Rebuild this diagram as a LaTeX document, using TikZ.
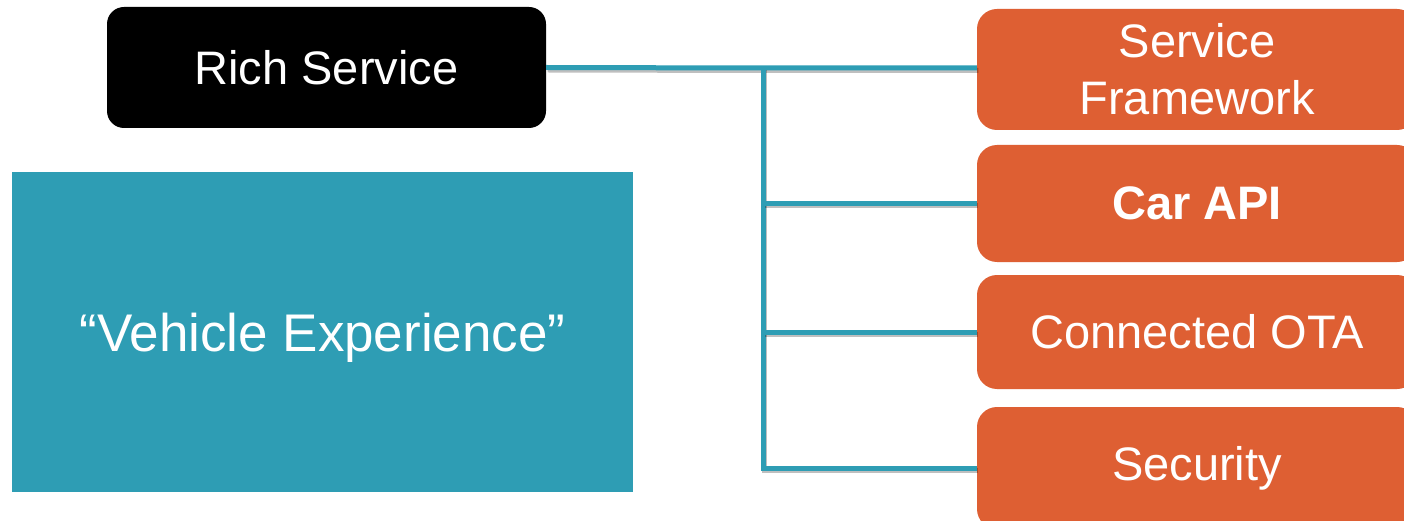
\documentclass[tikz,border=0pt]{standalone}
\usepackage{fontspec}
\setmainfont{Liberation Sans}
\definecolor{teal}{HTML}{2E9DB4}
\definecolor{orng}{HTML}{DE5F33}
\tikzset{
  x=1pt, y=1pt,
  txt/.style={font=\fontsize{47}{57}\selectfont, text=white, align=center, inner sep=0pt},
  orangebox/.style={txt, fill=orng, rounded corners=20pt, minimum width=440pt},
  link/.style={draw=teal, line width=5pt,
    preaction={draw=black, opacity=0.25, line width=5pt, transform canvas={xshift=1.5pt, yshift=-2.5pt}}},
}
\begin{document}
\begin{tikzpicture}
\clip (0,0) rectangle (1404,-521);
\fill[white] (0,0) rectangle (1404,-521);
\node[txt, fill=black, rounded corners=17pt, minimum width=439pt, minimum height=121pt] (rich) at (326.5,-67.5) {Rich Service};
\node[txt, fill=teal, minimum width=621pt, minimum height=320pt, font=\fontsize{53}{64}\selectfont, text height=38pt, text depth=0pt] (vx) at (322.5,-332) {``Vehicle Experience''};
\node[orangebox, minimum height=121pt] (sf) at (1197,-69.5) {Service\\Framework};
\node[orangebox, minimum height=117pt, font=\fontsize{47}{57}\selectfont\bfseries] (api) at (1197,-203.5) {Car API};
\node[orangebox, minimum height=114pt] (ota) at (1197,-332) {Connected OTA};
\node[orangebox, minimum height=122pt] (sec) at (1197,-468) {Security};
\coordinate (top) at (763,-68);
\draw[link] (rich.east) -- (top) -- (top -| sf.west);
\draw[link] (top) -- (top |- sec.west) -- (sec.west);
\draw[link] (top |- api.west) -- (api.west);
\draw[link] (top |- ota.west) -- (ota.west);
\end{tikzpicture}
\end{document}
